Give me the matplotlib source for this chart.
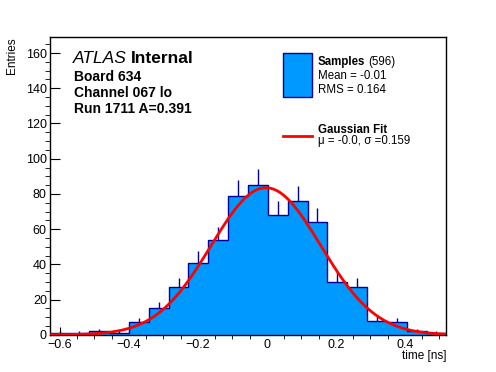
import numpy as np
import matplotlib
matplotlib.use("Agg")
import matplotlib.pyplot as plt

plt.rcParams['font.family'] = ['Liberation Sans', 'DejaVu Sans']

# histogram of sample times (20 bins)
x_lo, x_hi = -0.63, 0.52
counts = [1, 1, 2, 1, 7, 15, 27, 41, 54, 79, 85, 68, 76, 64, 30, 27, 8, 7, 2, 1]

# gaussian fit parameters
fit_amp = 83.5
fit_mu = -0.003
fit_sigma = 0.159

W, H = 496, 372
fill_col = '#0099ff'
edge_col = '#000099'


def fx(px):
    return px / W


def fy(py):
    return 1 - py / H


fig = plt.figure(figsize=(4.96, 3.72), dpi=100)
ax = fig.add_axes([0.1, 0.1, 0.8, 0.8])

counts = np.array(counts, dtype=float)
edges = np.linspace(x_lo, x_hi, len(counts) + 1)
centers = 0.5 * (edges[:-1] + edges[1:])
errs = np.sqrt(counts)
m = counts > 0
ax.vlines(centers[m], (counts - errs)[m], (counts + errs)[m], color=edge_col, lw=1, zorder=1)
ax.stairs(counts, edges, fill=True, color=fill_col, zorder=2)
ax.stairs(counts, edges, color=edge_col, lw=1, zorder=3)

xf = np.linspace(x_lo, x_hi, 400)
ax.plot(xf, fit_amp * np.exp(-0.5 * ((xf - fit_mu) / fit_sigma) ** 2), color='red', lw=2, zorder=4)

ax.set_xlim(x_lo, x_hi)
ax.set_ylim(0, 169)
ax.set_xticks([-0.6, -0.4, -0.2, 0, 0.2, 0.4])
ax.set_xticklabels(['\u22120.6', '\u22120.4', '\u22120.2', '0', '0.2', '0.4'])
ax.set_xticks(np.arange(-0.6, 0.52, 0.05), minor=True)
ax.set_yticks(np.arange(0, 161, 20))
ax.set_yticks(np.arange(0, 170, 5), minor=True)
ax.tick_params(direction='in', labelsize=9, colors='black')
ax.tick_params(axis='y', which='major', length=7.2, pad=2)
ax.tick_params(axis='y', which='minor', length=3.6)
ax.tick_params(axis='x', which='major', length=6, pad=3)
ax.tick_params(axis='x', which='minor', length=3)
for s in ax.spines.values():
    s.set_linewidth(1)

fig.text(fx(12.5), fy(37.7), 'Entries', rotation=90, ha='center', va='top', fontsize=8.5)
fig.text(fx(446), fy(350), 'time [ns]', ha='right', va='top', fontsize=8.5)

# ATLAS label block
t = fig.text(fx(73), fy(62.7), 'ATLAS', style='italic', fontsize=12.5, va='baseline')
fig.canvas.draw()
bb = t.get_window_extent()
fig.text(bb.x1 / W + 4 / W, fy(62.7), 'Internal', weight='bold', fontsize=12.5, va='baseline')
fig.text(fx(74), fy(80.7), 'Board 634', weight='bold', fontsize=10, va='baseline')
fig.text(fx(74), fy(97), 'Channel 067 lo', weight='bold', fontsize=10, va='baseline')
fig.text(fx(74), fy(113.3), 'Run 1711 A=0.391', weight='bold', fontsize=10, va='baseline')

# legend
fig.patches.append(plt.Rectangle((fx(283), fy(96.7)), (312 - 283) / W, (96.7 - 53.3) / H,
                                 transform=fig.transFigure, facecolor=fill_col,
                                 edgecolor=edge_col, lw=1))
t = fig.text(fx(318), fy(65), 'Samples', weight='bold', fontsize=8.3, va='baseline')
fig.canvas.draw()
bb = t.get_window_extent()
fig.text(bb.x1 / W + 3 / W, fy(65), '(596)', fontsize=8.3, va='baseline')
fig.text(fx(318), fy(79.3), 'Mean = -0.01', fontsize=8.3, va='baseline')
fig.text(fx(318), fy(93.3), 'RMS = 0.164', fontsize=8.3, va='baseline')
fig.lines.append(plt.Line2D([fx(283), fx(312)], [fy(136), fy(136)], transform=fig.transFigure,
                            color='red', lw=2))
fig.text(fx(318), fy(132.7), 'Gaussian Fit', weight='bold', fontsize=8.3, va='baseline')
fig.text(fx(318), fy(144.3), '\u03bc = -0.0, \u03c3 =0.159', fontsize=8.3, va='baseline')

fig.savefig('out.png', dpi=100)
